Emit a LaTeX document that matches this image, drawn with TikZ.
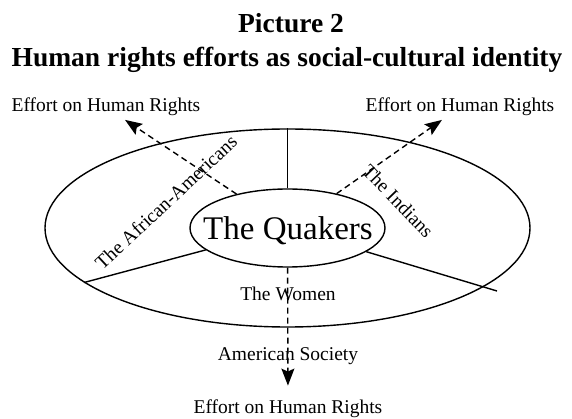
\documentclass[tikz,border=0pt]{standalone}
\usepackage{fontspec}
\setmainfont{Liberation Serif}
\usetikzlibrary{shapes.geometric, arrows.meta}

\begin{document}
\begin{tikzpicture}[x=1pt, y=-1pt, line width=1.4pt,
    lbl/.style={font=\fontsize{19.5}{22}\selectfont, inner sep=3pt},
    effort/.style={dash pattern=on 6pt off 4pt, -{Stealth[length=17pt, width=13pt, inset=3pt]}}]
    \useasboundingbox (0,0) rectangle (572,419);
    % title
    \node[font=\fontsize{27.5}{30}\selectfont\bfseries, anchor=base] (title) at (291,33) {Picture 2};
    \node[font=\fontsize{27.5}{30}\selectfont\bfseries, anchor=base] (subtitle) at (287,67) {Human rights efforts as social-cultural identity};
    % outer and inner ellipse
    \node[draw, ellipse, minimum width=485pt, minimum height=198pt, inner sep=0pt] (society) at (287.5,228) {};
    \node[draw, ellipse, minimum width=195pt, minimum height=78pt, inner sep=0pt] (quakers) at (287.5,228) {};
    \node[font=\fontsize{33}{36}\selectfont, anchor=base] (quakerstext) at (288,240) {The Quakers};
    % dividing lines
    \coordinate (rightend) at (497,291);
    \draw (quakers.north) -- (society.north);
    \draw (quakers) -- (society.195.6);
    \draw (quakers) -- (rightend);
    % groups
    \node[lbl, rotate=43] (african) at (166,202) {The African-Americans};
    \node[lbl, rotate=-46] (indians) at (398,201) {The Indians};
    \node[lbl, anchor=base] (women) at (288,300) {The Women};
    \node[lbl, anchor=base] (america) at (288,360) {American Society};
    % efforts
    \node[lbl, anchor=base] (effortl) at (106,112) {Effort on Human Rights};
    \node[lbl, anchor=base] (effortr) at (460,112) {Effort on Human Rights};
    \node[lbl, anchor=base] (effortb) at (288,413) {Effort on Human Rights};
    \draw[effort] (quakers) -- (effortl);
    \draw[effort] (quakers) -- (effortr);
    \draw[effort, shorten >=10pt] (quakers) -- (effortb);
\end{tikzpicture}
\end{document}
